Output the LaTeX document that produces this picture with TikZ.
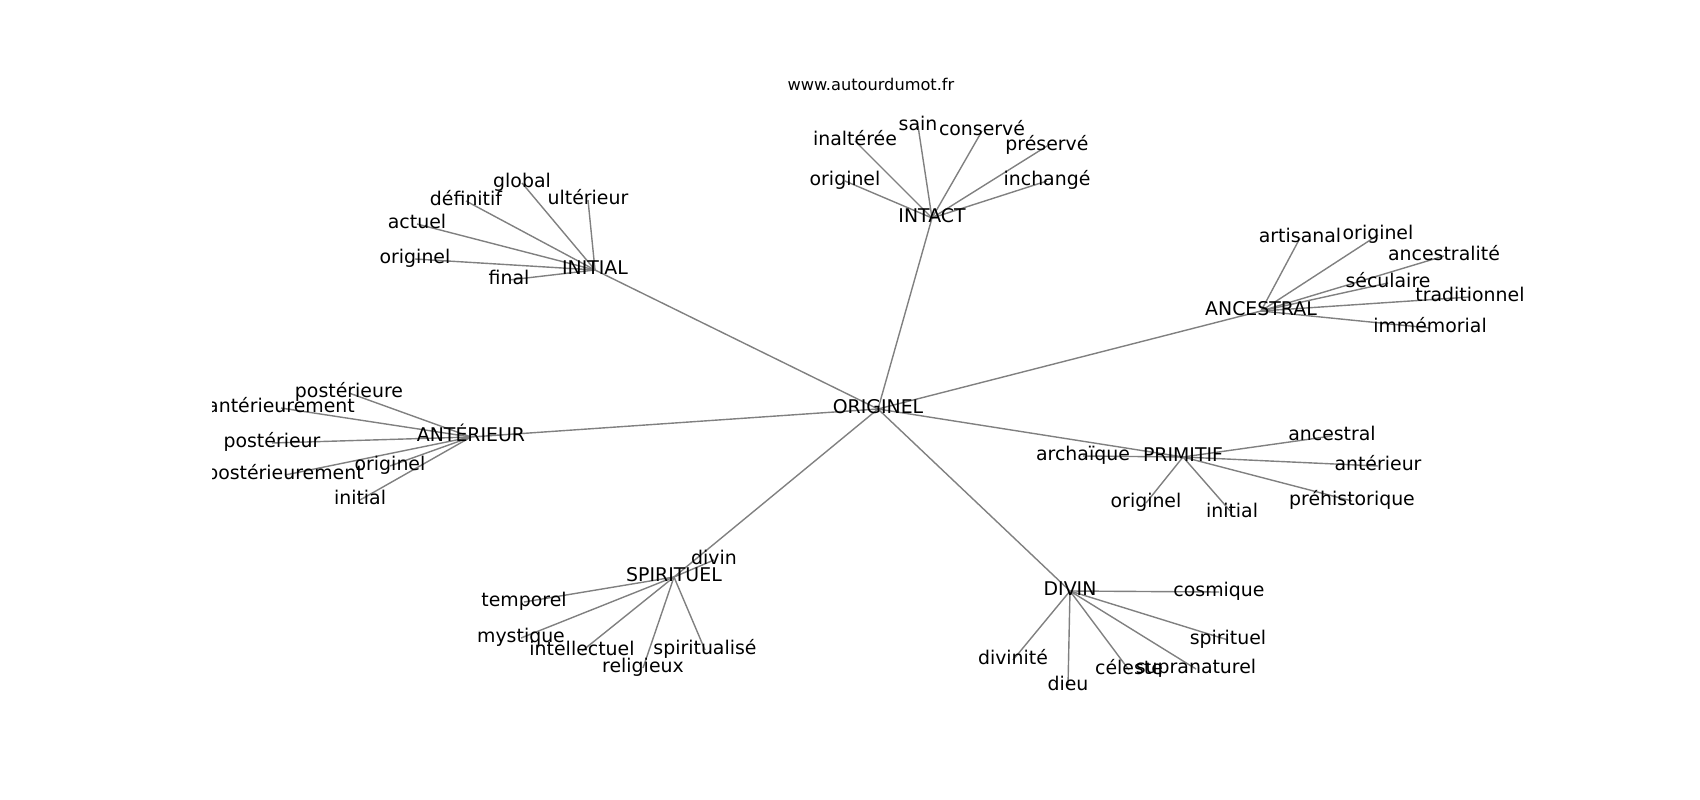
\documentclass[tikz,border=0pt]{standalone}
\usepackage{fontspec}
\setmainfont{DejaVu Sans}
\usetikzlibrary{backgrounds}

\begin{document}
\begin{tikzpicture}[x=1pt,y=-1pt]
      \useasboundingbox (0,0) rectangle (1700,800);
      \node[font=\fontsize{16.2pt}{19pt}\selectfont] (T) at (871,84) {www.autourdumot.fr};
      \begin{scope}[every node/.style={inner sep=0pt,text height=14.4pt,text depth=4.5pt,
          yshift=-2pt,font=\fontsize{18.9pt}{22pt}\selectfont}]
        \clip (212,96) rectangle (1530,712);
        \node (O) at (878,407) {ORIGINEL};
        % INTACT
        \node (I) at (932,216) {INTACT};
        \node (I1) at (855,139) {inaltérée};
        \node (I2) at (918,124) {sain};
        \node (I3) at (982,129) {conservé};
        \node (I4) at (1047,144) {préservé};
        \node (I5) at (845,179) {originel};
        \node (I6) at (1047,179) {inchangé};
        % INITIAL
        \node (N) at (595,268) {INITIAL};
        \node (N1) at (522,181) {global};
        \node (N2) at (466,199) {définitif};
        \node (N3) at (588,198) {ultérieur};
        \node (N4) at (417,222) {actuel};
        \node (N5) at (415,257) {originel};
        \node (N6) at (509,278) {final};
        % ANCESTRAL
        \node (A) at (1261,309) {ANCESTRAL};
        \node (A1) at (1300,236) {artisanal};
        \node (A2) at (1378,233) {originel};
        \node (A3) at (1444,254) {ancestralité};
        \node (A4) at (1388,281) {séculaire};
        \node (A5) at (1470,295) {traditionnel};
        \node (A6) at (1430,326) {immémorial};
        % ANTERIEUR
        \node (R) at (471,435) {ANTÉRIEUR};
        \node (R1) at (349,391) {postérieure};
        \node (R2) at (281,406) {antérieurement};
        \node (R3) at (272,441) {postérieur};
        \node (R4) at (285,473) {postérieurement};
        \node (R5) at (390,464) {originel};
        \node (R6) at (360,498) {initial};
        % PRIMITIF
        \node (P) at (1183,455) {PRIMITIF};
        \node (P1) at (1332,434) {ancestral};
        \node (P2) at (1083,454) {archaïque};
        \node (P3) at (1378,464) {antérieur};
        \node (P4) at (1146,501) {originel};
        \node (P5) at (1232,511) {initial};
        \node (P6) at (1352,499) {préhistorique};
        % SPIRITUEL
        \node (S) at (674,575) {SPIRITUEL};
        \node (S1) at (714,558) {divin};
        \node (S2) at (524,600) {temporel};
        \node (S3) at (521,636) {mystique};
        \node (S4) at (582,649) {intellectuel};
        \node (S5) at (643,666) {religieux};
        \node (S6) at (705,648) {spiritualisé};
        % DIVIN
        \node (D) at (1070,589) {DIVIN};
        \node (D1) at (1219,590) {cosmique};
        \node (D2) at (1228,638) {spirituel};
        \node (D3) at (1013,658) {divinité};
        \node (D4) at (1068,684) {dieu};
        \node (D5) at (1129,668) {céleste};
        \node (D6) at (1196,667) {supranaturel};
      \end{scope}
      \begin{scope}[on background layer,
        every edge/.style={draw=gray, line width=1.4pt}]
        \clip (212,96) rectangle (1530,712);
        \foreach \h in {I,N,A,R,P,S,D}
          \path (O.center) edge (\h.center);
        \foreach \h in {I,N,A,R,P,S,D}
          \foreach \k in {1,...,6}
            \path (\h.center) edge (\h\k.center);
      \end{scope}
    \end{tikzpicture}
\end{document}
